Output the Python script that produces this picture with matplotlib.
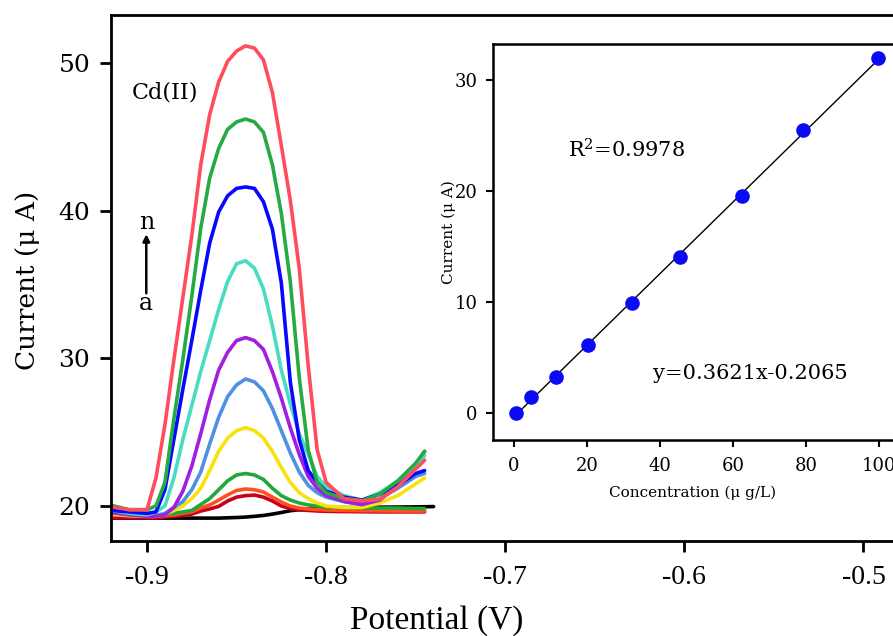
import numpy as np
import matplotlib
matplotlib.use("Agg")
import matplotlib.pyplot as plt

plt.rcParams['mathtext.fontset'] = 'dejavuserif'

# ---------------- DPV curves (potential in V, current in uA) ----------------
potential = [-0.92, -0.91, -0.90, -0.895, -0.89, -0.885, -0.88, -0.875, -0.87,
             -0.865, -0.86, -0.855, -0.85, -0.845, -0.84, -0.835, -0.83, -0.825,
             -0.82, -0.815, -0.81, -0.805, -0.80, -0.79, -0.78, -0.77, -0.76,
             -0.75, -0.745]

potential_blank = [-0.92, -0.90, -0.88, -0.86, -0.855, -0.85, -0.845, -0.84,
                   -0.835, -0.83, -0.825, -0.82, -0.815, -0.81, -0.805, -0.80,
                   -0.79, -0.78, -0.77, -0.76, -0.75, -0.74]
curve_a = [19.18, 19.18, 19.18, 19.18, 19.2, 19.22, 19.25, 19.3, 19.36, 19.45,
           19.56, 19.68, 19.75, 19.8, 19.83, 19.86, 19.88, 19.9, 19.92, 19.93,
           19.94, 19.96]

curve_b = [19.2, 19.2, 19.2, 19.2, 19.25, 19.3, 19.35, 19.45, 19.66, 19.8, 19.97,
           20.34, 20.6, 20.7, 20.74, 20.6, 20.34, 20.0, 19.83, 19.73, 19.7, 19.66,
           19.64, 19.62, 19.61, 19.6, 19.6, 19.6, 19.6]
curve_c = [19.4, 19.35, 19.3, 19.3, 19.35, 19.4, 19.5, 19.6, 19.86, 20.07, 20.4,
           20.75, 21.05, 21.15, 21.1, 20.95, 20.6, 20.27, 20.0, 19.86, 19.8, 19.76,
           19.73, 19.7, 19.68, 19.67, 19.66, 19.66, 19.66]
curve_d = [19.5, 19.45, 19.35, 19.35, 19.4, 19.5, 19.6, 19.7, 20.1, 20.5, 21.1,
           21.7, 22.1, 22.2, 22.1, 21.8, 21.2, 20.7, 20.4, 20.2, 20.07, 20.0,
           19.93, 19.9, 19.86, 19.86, 19.86, 19.83, 19.83]
curve_e = [19.45, 19.35, 19.3, 19.3, 19.45, 19.7, 20.0, 20.5, 21.2, 22.4, 23.7,
           24.6, 25.1, 25.3, 25.1, 24.6, 23.7, 22.6, 21.6, 20.9, 20.5, 20.2, 20.0,
           19.9, 19.9, 20.2, 20.7, 21.5, 21.9]
curve_f = [19.65, 19.5, 19.35, 19.35, 19.5, 19.9, 20.3, 21.1, 22.3, 24.2, 26.0,
           27.4, 28.2, 28.6, 28.4, 27.8, 26.6, 25.1, 23.6, 22.3, 21.4, 20.9, 20.6,
           20.3, 20.1, 20.5, 21.2, 22.0, 22.2]
curve_g = [19.55, 19.4, 19.3, 19.3, 19.4, 19.9, 21.0, 22.7, 24.9, 27.2, 29.2,
           30.4, 31.2, 31.4, 31.2, 30.6, 29.1, 27.3, 25.3, 23.5, 22.0, 21.2, 20.7,
           20.3, 20.1, 20.4, 21.4, 22.8, 23.7]
curve_h = [19.7, 19.5, 19.4, 19.6, 20.0, 21.9, 24.5, 26.8, 29.1, 31.2, 33.3,
           35.2, 36.4, 36.6, 36.1, 34.7, 32.2, 29.2, 26.9, 24.9, 23.5, 22.0, 21.3,
           20.7, 20.4, 20.9, 21.7, 22.8, 23.4]
curve_i = [19.7, 19.6, 19.5, 19.6, 21.1, 24.5, 27.9, 31.2, 34.6, 37.8, 39.9,
           41.0, 41.5, 41.6, 41.5, 40.6, 38.75, 35.1, 28.4, 24.5, 22.4, 21.6, 21.0,
           20.6, 20.4, 20.8, 21.4, 22.2, 22.4]
curve_j = [20.05, 19.75, 19.75, 20.0, 21.6, 25.9, 29.9, 34.2, 38.8, 42.2, 44.2,
           45.5, 46.0, 46.2, 46.0, 45.3, 43.1, 39.8, 35.2, 28.7, 23.8, 21.6, 20.9,
           20.5, 20.35, 20.8, 21.7, 22.9, 23.7]
curve_k = [19.95, 19.75, 19.75, 21.9, 25.5, 29.9, 34.1, 38.3, 43.1, 46.5, 48.7,
           50.1, 50.8, 51.15, 51.0, 50.2, 48.0, 44.4, 40.7, 36.1, 29.5, 23.8, 21.6,
           20.5, 20.35, 20.45, 21.3, 22.5, 23.1]

curve_colors = ["#000000", "#c8001e", "#ff5020", "#22a83a", "#f7e20c", "#4f90e2",
                "#a21ee0", "#48dcc0", "#0808ff", "#26aa42", "#ff4d5e"]

xtick_vals = [-0.9, -0.8, -0.7, -0.6, -0.5]
xtick_labels = ["-0.9", "-0.8", "-0.7", "-0.6", "-0.5"]
ytick_vals = [20, 30, 40, 50]

# ---------------- calibration (inset) ----------------
concentration = [0.55, 4.65, 11.5, 20.2, 32.4, 45.4, 62.4, 79.2, 99.7]
peak_current = [0.0, 1.44, 3.25, 6.1, 9.9, 14.0, 19.5, 25.5, 32.0]
inset_xticks = [0, 20, 40, 60, 80, 100]
inset_yticks = [0, 10, 20, 30]

W, H = 893, 636
fig = plt.figure(figsize=(W / 100, H / 100), dpi=100)
fig.patch.set_facecolor("white")

# main axes (runs past the right edge of the canvas)
ax = fig.add_axes([111 / W, 95 / H, (900 - 111) / W, 526 / H])
ax.set_xlim(-0.9201, -0.4796)
ax.set_ylim(17.63, 53.24)

series = [curve_b, curve_c, curve_d, curve_e, curve_f, curve_g, curve_h,
          curve_i, curve_j, curve_k]
ax.plot(potential_blank, curve_a, color=curve_colors[0], lw=2.6,
        solid_joinstyle="round", solid_capstyle="round")
for vals, col in zip(series, curve_colors[1:]):
    ax.plot(potential, vals, color=col, lw=2.6,
            solid_joinstyle="round", solid_capstyle="round")

for s in ax.spines.values():
    s.set_linewidth(2.0)
ax.set_xticks(xtick_vals)
ax.set_xticklabels(xtick_labels, fontfamily="Liberation Serif", fontsize=20)
ax.set_yticks(ytick_vals)
ax.set_yticklabels([str(v) for v in ytick_vals], fontfamily="DejaVu Serif",
                   fontsize=18)
ax.tick_params(axis="both", direction="out", length=8, width=2)
ax.tick_params(axis="x", pad=9)
ax.tick_params(axis="y", pad=7)

fig.text(28 / W, 1 - 280 / H, "Current (μ A)", rotation=90, ha="center",
         va="center", fontfamily="DejaVu Serif", fontsize=19)
fig.text(437 / W, 1 - 621 / H, "Potential (V)", ha="center", va="center",
         fontfamily="Liberation Serif", fontsize=24)

ax.text(-0.8897, 48.0, "Cd(II)", ha="center", va="center",
        fontfamily="DejaVu Serif", fontsize=16)
ax.text(-0.9004, 39.2, "n", ha="center", va="center",
        fontfamily="DejaVu Serif", fontsize=17)
ax.text(-0.9004, 33.7, "a", ha="center", va="center",
        fontfamily="DejaVu Serif", fontsize=17)
ax.annotate("", xy=(-0.9004, 38.4), xytext=(-0.9004, 34.4),
            arrowprops=dict(arrowstyle="-|>", color="black", lw=1.8,
                            mutation_scale=10, shrinkA=0, shrinkB=0))

# inset calibration plot
axin = fig.add_axes([492.7 / W, (H - 440) / H, (900 - 492.7) / W, 396 / H])
axin.set_facecolor("white")
axin.set_xlim(-5.83, 105.67)
axin.set_ylim(-2.46, 33.25)
slope, intercept = np.polyfit(concentration, peak_current, 1)
xfit = np.array([min(concentration), max(concentration)])
axin.plot(xfit, slope * xfit + intercept, color="black", lw=1.0, zorder=2)
axin.plot(concentration, peak_current, "o", color="#0a0af5", ms=10.5,
          mec="none", zorder=3)
for s in axin.spines.values():
    s.set_linewidth(1.8)
axin.set_xticks(inset_xticks)
axin.set_yticks(inset_yticks)
axin.tick_params(axis="both", direction="out", length=5, width=1.5,
                 labelsize=13)
for lab in axin.get_xticklabels() + axin.get_yticklabels():
    lab.set_fontfamily("DejaVu Serif")
axin.tick_params(axis="x", pad=7)
axin.tick_params(axis="y", pad=6)

fig.text(693 / W, 1 - 493 / H, "Concentration (μ g/L)", ha="center",
         va="center", fontfamily="DejaVu Serif", fontsize=11)
fig.text(449 / W, 1 - 232 / H, "Current (μ A)", rotation=90, ha="center",
         va="center", fontfamily="DejaVu Serif", fontsize=11)

axin.text(14.7, 23.7, r"R$^{2}$=0.9978", ha="left", va="center",
          fontfamily="DejaVu Serif", fontsize=15)
axin.text(38.1, 3.55, "y=0.3621x-0.2065", ha="left", va="center",
          fontfamily="DejaVu Serif", fontsize=15)

fig.savefig("out.png", dpi=100, facecolor="white")
